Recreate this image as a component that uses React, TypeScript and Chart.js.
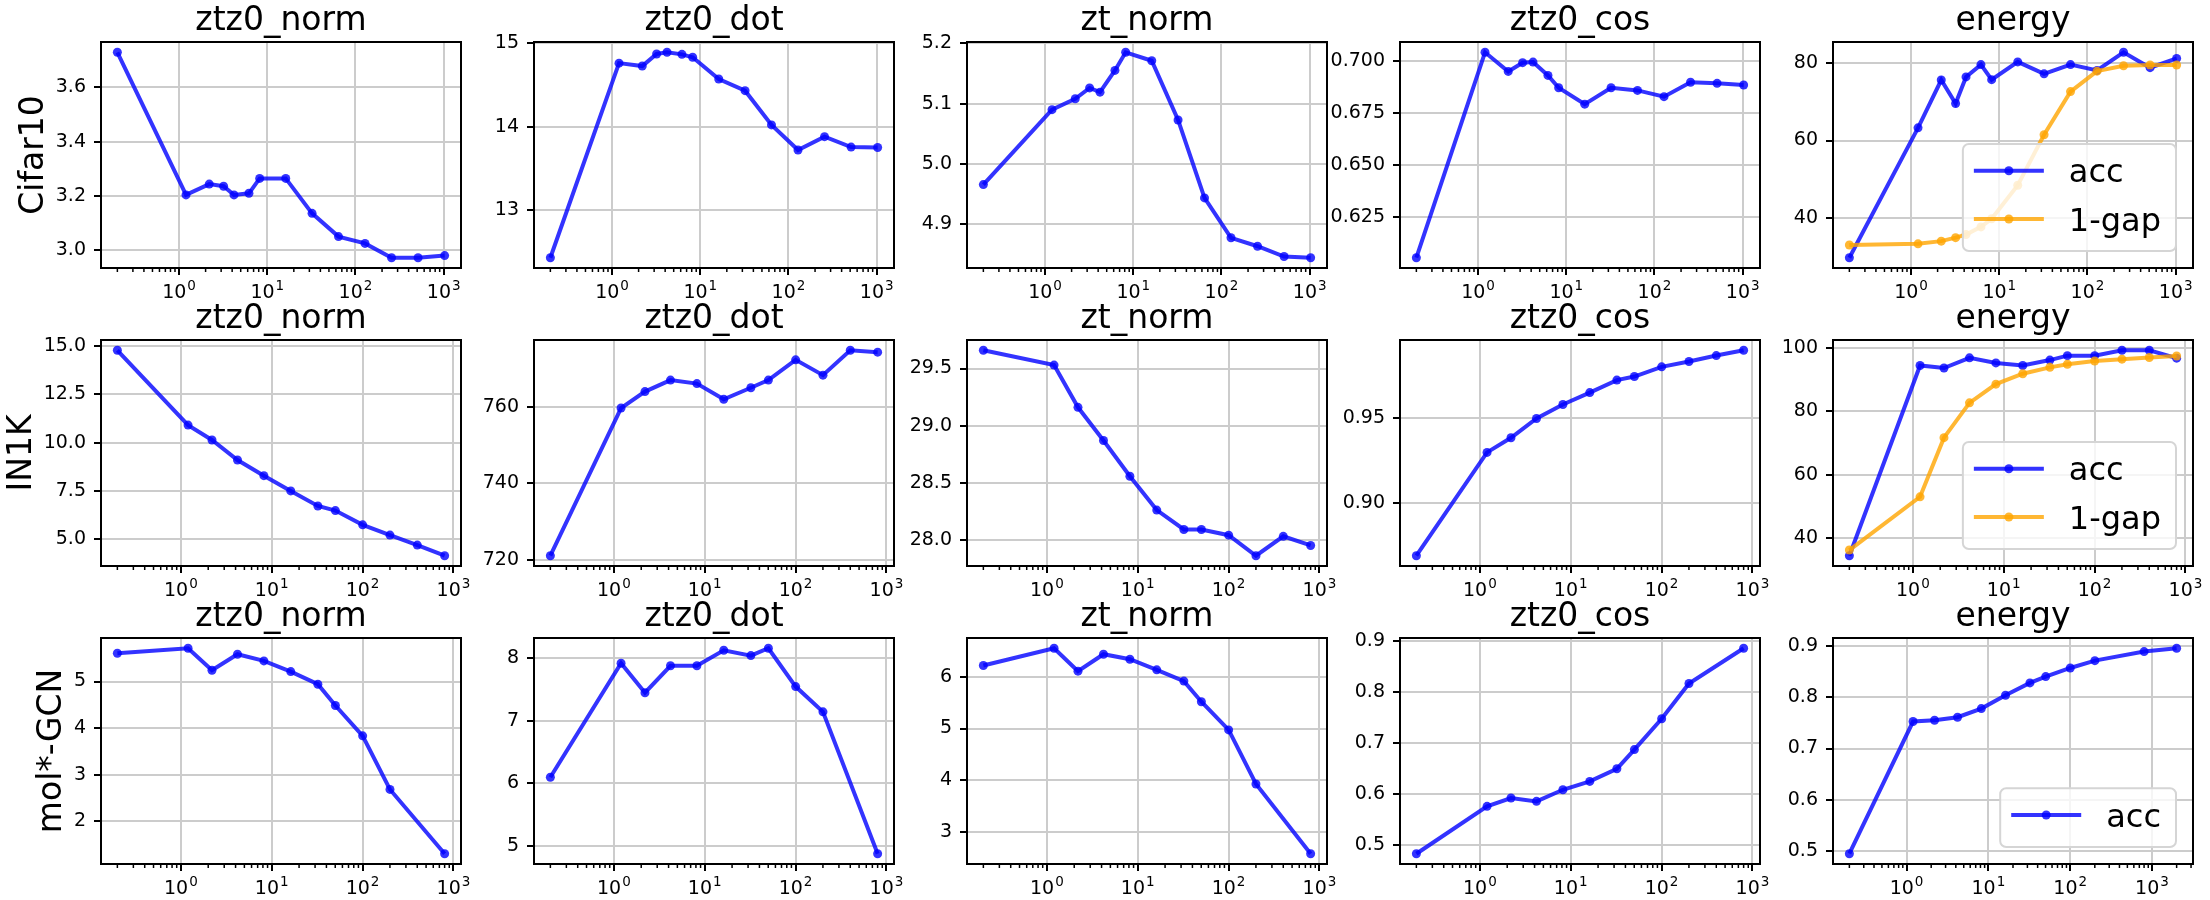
import React, { useEffect, useRef } from "react";
import { Chart, registerables } from "chart.js";

Chart.register(...registerables);
Chart.defaults.font.family = "'DejaVu Sans', 'Noto Sans', sans-serif";

// ---------------- data ----------------
const X_TICK_VALUES = [1, 10, 100, 1000];
const X_TICK_BASE = "10";
const X_TICK_EXPONENTS = ["0", "1", "2", "3"];

const ROW_LABELS = ["Cifar10", "IN1K", "mol*-GCN"];
const COL_TITLES = ["ztz0_norm", "ztz0_dot", "zt_norm", "ztz0_cos", "energy"];

const CIFAR_X = [0.2, 1.2, 2.2, 3.2, 4.2, 6.2, 8.2, 16.2, 32.2, 64.2, 128.2, 256.2, 512.2, 1024.2];
const CIFAR_ZTZ0_NORM = [3.73, 3.203, 3.243, 3.235, 3.203, 3.209, 3.264, 3.264, 3.135, 3.049, 3.024, 2.971, 2.971, 2.979];
const CIFAR_ZTZ0_DOT = [12.43, 14.76, 14.725, 14.87, 14.89, 14.865, 14.83, 14.57, 14.43, 14.02, 13.72, 13.88, 13.755, 13.75];
const CIFAR_ZT_NORM = [4.966, 5.09, 5.108, 5.126, 5.119, 5.155, 5.185, 5.171, 5.073, 4.944, 4.878, 4.864, 4.847, 4.845];
const CIFAR_ZTZ0_COS = [0.6056, 0.7042, 0.695, 0.6992, 0.6995, 0.6931, 0.6872, 0.6793, 0.6872, 0.6859, 0.6829, 0.6898, 0.6893, 0.6885];
const CIFAR_ACC = [29.6, 63.3, 75.7, 69.6, 76.5, 79.7, 75.8, 80.4, 77.3, 79.7, 78.2, 82.9, 78.9, 81.3];
const CIFAR_GAP = [32.9, 33.2, 33.9, 34.8, 35.6, 37.6, 39.7, 48.4, 61.5, 72.7, 78.0, 79.4, 79.6, 79.6];

const IN1K_X = [0.2, 1.2, 2.2, 4.2, 8.2, 16.2, 32.2, 50.2, 100.2, 200.2, 400.2, 800.2];
const IN1K_ZTZ0_NORM = [14.79, 10.91, 10.14, 9.1, 8.29, 7.5, 6.72, 6.48, 5.74, 5.21, 4.69, 4.14];
const IN1K_ZTZ0_DOT = [721.1, 759.7, 764.0, 767.0, 766.1, 762.0, 765.0, 767.0, 772.3, 768.3, 774.8, 774.3];
const IN1K_ZT_NORM = [29.66, 29.53, 29.16, 28.87, 28.556, 28.26, 28.09, 28.09, 28.04, 27.86, 28.03, 27.95];
const IN1K_ZTZ0_COS = [0.8691, 0.9297, 0.9383, 0.9496, 0.9578, 0.9648, 0.9721, 0.9742, 0.9799, 0.983, 0.9865, 0.9896];
const IN1K_ACC = [34.4, 94.5, 93.7, 96.9, 95.3, 94.5, 96.2, 97.6, 97.6, 99.3, 99.3, 96.8];
const IN1K_GAP = [36.2, 53.0, 71.7, 82.7, 88.6, 91.9, 93.9, 94.9, 95.9, 96.5, 97.0, 97.5];

const MOL_X = [0.2, 1.2, 2.2, 4.2, 8.2, 16.2, 32.2, 50.2, 100.2, 200.2, 800.2];
const MOL_ZTZ0_NORM = [5.607, 5.714, 5.243, 5.586, 5.443, 5.214, 4.943, 4.486, 3.836, 2.686, 1.307];
const MOL_ZTZ0_DOT = [6.1, 7.92, 7.45, 7.88, 7.88, 8.128, 8.043, 8.16, 7.548, 7.144, 4.878];
const MOL_ZT_NORM = [6.218, 6.552, 6.109, 6.437, 6.34, 6.135, 5.917, 5.518, 4.974, 3.929, 2.58];
const MOL_ZTZ0_COS = [0.4837, 0.5765, 0.5928, 0.5863, 0.609, 0.6254, 0.6502, 0.6878, 0.7482, 0.8173, 0.8863];
const MOL_ENERGY_X = [0.2, 1.2, 2.2, 4.2, 8.2, 16.2, 32.2, 50.2, 100.2, 200.2, 800.2, 2000.2];
const MOL_ACC = [0.4948, 0.7526, 0.7552, 0.761, 0.7779, 0.8039, 0.8279, 0.8403, 0.8571, 0.8714, 0.889, 0.8955];

const Y_TICKS = [
  [["3.0", "3.2", "3.4", "3.6"], ["13", "14", "15"], ["4.9", "5.0", "5.1", "5.2"], ["0.625", "0.650", "0.675", "0.700"], ["40", "60", "80"]],
  [["5.0", "7.5", "10.0", "12.5", "15.0"], ["720", "740", "760"], ["28.0", "28.5", "29.0", "29.5"], ["0.90", "0.95"], ["40", "60", "80", "100"]],
  [["2", "3", "4", "5"], ["5", "6", "7", "8"], ["3", "4", "5", "6"], ["0.5", "0.6", "0.7", "0.8", "0.9"], ["0.5", "0.6", "0.7", "0.8", "0.9"]],
];

// ---------------- styles / layout ----------------
const BLUE = "rgba(0,0,255,0.8)";
const ORANGE = "rgba(255,165,0,0.8)";
const GRID = "#cccccc";
const FONT = "'DejaVu Sans'";
const COL_LEFT = [101, 534, 967, 1400, 1833];
const ROW_TOP = [42, 340, 638];
const PLOT_W = 360;
const PLOT_H = 226;
const PAD_L = 100;
const PAD_T = 42;
const PAD_R = 14;
const PAD_B = 45;

type Series = { label: string; x: number[]; y: number[]; color: string };
type Panel = { title: string; rowLabel?: string; series: Series[]; yTicks: string[]; legend: boolean };

const s = (label: string, x: number[], y: number[], color: string): Series => ({ label, x, y, color });

const PANELS: Panel[][] = [
  [
    { title: COL_TITLES[0], rowLabel: ROW_LABELS[0], series: [s("ztz0_norm", CIFAR_X, CIFAR_ZTZ0_NORM, BLUE)], yTicks: Y_TICKS[0][0], legend: false },
    { title: COL_TITLES[1], series: [s("ztz0_dot", CIFAR_X, CIFAR_ZTZ0_DOT, BLUE)], yTicks: Y_TICKS[0][1], legend: false },
    { title: COL_TITLES[2], series: [s("zt_norm", CIFAR_X, CIFAR_ZT_NORM, BLUE)], yTicks: Y_TICKS[0][2], legend: false },
    { title: COL_TITLES[3], series: [s("ztz0_cos", CIFAR_X, CIFAR_ZTZ0_COS, BLUE)], yTicks: Y_TICKS[0][3], legend: false },
    { title: COL_TITLES[4], series: [s("acc", CIFAR_X, CIFAR_ACC, BLUE), s("1-gap", CIFAR_X, CIFAR_GAP, ORANGE)], yTicks: Y_TICKS[0][4], legend: true },
  ],
  [
    { title: COL_TITLES[0], rowLabel: ROW_LABELS[1], series: [s("ztz0_norm", IN1K_X, IN1K_ZTZ0_NORM, BLUE)], yTicks: Y_TICKS[1][0], legend: false },
    { title: COL_TITLES[1], series: [s("ztz0_dot", IN1K_X, IN1K_ZTZ0_DOT, BLUE)], yTicks: Y_TICKS[1][1], legend: false },
    { title: COL_TITLES[2], series: [s("zt_norm", IN1K_X, IN1K_ZT_NORM, BLUE)], yTicks: Y_TICKS[1][2], legend: false },
    { title: COL_TITLES[3], series: [s("ztz0_cos", IN1K_X, IN1K_ZTZ0_COS, BLUE)], yTicks: Y_TICKS[1][3], legend: false },
    { title: COL_TITLES[4], series: [s("acc", IN1K_X, IN1K_ACC, BLUE), s("1-gap", IN1K_X, IN1K_GAP, ORANGE)], yTicks: Y_TICKS[1][4], legend: true },
  ],
  [
    { title: COL_TITLES[0], rowLabel: ROW_LABELS[2], series: [s("ztz0_norm", MOL_X, MOL_ZTZ0_NORM, BLUE)], yTicks: Y_TICKS[2][0], legend: false },
    { title: COL_TITLES[1], series: [s("ztz0_dot", MOL_X, MOL_ZTZ0_DOT, BLUE)], yTicks: Y_TICKS[2][1], legend: false },
    { title: COL_TITLES[2], series: [s("zt_norm", MOL_X, MOL_ZT_NORM, BLUE)], yTicks: Y_TICKS[2][2], legend: false },
    { title: COL_TITLES[3], series: [s("ztz0_cos", MOL_X, MOL_ZTZ0_COS, BLUE)], yTicks: Y_TICKS[2][3], legend: false },
    { title: COL_TITLES[4], series: [s("acc", MOL_ENERGY_X, MOL_ACC, BLUE)], yTicks: Y_TICKS[2][4], legend: true },
  ],
];

function decorPlugin(panel: Panel, yTicksIn: string[]) {
  return {
    id: "decor",
    afterDraw(chart: any) {
      const ctx: CanvasRenderingContext2D = chart.ctx;
      const a = chart.chartArea;
      const xs = chart.scales.x;
      ctx.save();
      // minor ticks on the log x axis
      ctx.strokeStyle = "#000";
      ctx.lineWidth = 1.5;
      const lo = Math.floor(Math.log10(xs.min));
      const hi = Math.ceil(Math.log10(xs.max));
      for (let d = lo; d <= hi; d++) {
        for (let m = 2; m <= 9; m++) {
          const v = m * Math.pow(10, d);
          if (v < xs.min || v > xs.max) continue;
          const px = xs.getPixelForValue(v);
          ctx.beginPath();
          ctx.moveTo(px, a.bottom);
          ctx.lineTo(px, a.bottom + 4);
          ctx.stroke();
        }
      }
      // x tick labels: base with raised exponent
      ctx.fillStyle = "#000";
      ctx.textBaseline = "alphabetic";
      ctx.textAlign = "left";
      X_TICK_VALUES.forEach((v, k) => {
        if (v < xs.min || v > xs.max) return;
        const px = xs.getPixelForValue(v);
        ctx.font = `19px ${FONT}`;
        const wb = ctx.measureText(X_TICK_BASE).width;
        ctx.font = `13.5px ${FONT}`;
        const we = ctx.measureText(X_TICK_EXPONENTS[k]).width;
        const x0 = px - (wb + we + 1) / 2;
        ctx.font = `19px ${FONT}`;
        ctx.fillText(X_TICK_BASE, x0, a.bottom + 30);
        ctx.font = `13.5px ${FONT}`;
        ctx.fillText(X_TICK_EXPONENTS[k], x0 + wb + 1, a.bottom + 22);
      });
      // frame
      ctx.strokeStyle = "#000";
      ctx.lineWidth = 2;
      ctx.strokeRect(a.left, a.top, a.right - a.left, a.bottom - a.top);
      // title
      ctx.font = `33px ${FONT}`;
      ctx.textAlign = "center";
      ctx.fillText(panel.title, (a.left + a.right) / 2, a.top - 12);
      // row label
      if (panel.rowLabel) {
        ctx.font = `19px ${FONT}`;
        let maxW = 0;
        yTicksIn.forEach((t) => (maxW = Math.max(maxW, ctx.measureText(t).width)));
        const x = a.left - 15 - maxW - 13;
        ctx.font = `33px ${FONT}`;
        ctx.translate(x, (a.top + a.bottom) / 2);
        ctx.rotate(-Math.PI / 2);
        ctx.textAlign = "center";
        ctx.fillText(panel.rowLabel, 0, 0);
        ctx.setTransform(1, 0, 0, 1, 0, 0);
      }
      // legend
      if (panel.legend) {
        ctx.font = `32px ${FONT}`;
        let tw = 0;
        panel.series.forEach((sr) => (tw = Math.max(tw, ctx.measureText(sr.label).width)));
        const n = panel.series.length;
        const w = 11 + 70 + 25 + tw + 15;
        const h = 26.7 + (n - 1) * 48.3 + 32;
        const bx = a.right - 17 - w;
        const by = a.bottom - 17 - h;
        ctx.beginPath();
        ctx.roundRect(bx, by, w, h, 6);
        ctx.fillStyle = "rgba(255,255,255,0.8)";
        ctx.fill();
        ctx.strokeStyle = "#d5d5d5";
        ctx.lineWidth = 2;
        ctx.stroke();
        panel.series.forEach((sr, i) => {
          const cy = by + 26.7 + i * 48.3;
          ctx.strokeStyle = sr.color;
          ctx.lineWidth = 4;
          ctx.beginPath();
          ctx.moveTo(bx + 11, cy);
          ctx.lineTo(bx + 81, cy);
          ctx.stroke();
          ctx.fillStyle = sr.color;
          ctx.beginPath();
          ctx.arc(bx + 46, cy, 4.5, 0, Math.PI * 2);
          ctx.fill();
          ctx.fillStyle = "#000";
          ctx.textAlign = "left";
          ctx.textBaseline = "alphabetic";
          ctx.fillText(sr.label, bx + 106, cy + 11.5);
        });
      }
      ctx.restore();
    },
  };
}

function SubPlot({ panel, left, top }: { panel: Panel; left: number; top: number }) {
  const ref = useRef<HTMLCanvasElement | null>(null);
  const W = PAD_L + PLOT_W + PAD_R;
  const H = PAD_T + PLOT_H + PAD_B;
  useEffect(() => {
    if (!ref.current) return;
    const allY = panel.series.flatMap((sr) => sr.y);
    const allX = panel.series.flatMap((sr) => sr.x);
    const yLo = Math.min(...allY);
    const yHi = Math.max(...allY);
    const ym = (yHi - yLo) * 0.05;
    const yMin = yLo - ym;
    const yMax = yHi + ym;
    const lxLo = Math.log10(Math.min(...allX));
    const lxHi = Math.log10(Math.max(...allX));
    const xm = (lxHi - lxLo) * 0.05;
    const xMin = Math.pow(10, lxLo - xm);
    const xMax = Math.pow(10, lxHi + xm);
    const yTickVals = panel.yTicks.map((t) => parseFloat(t));
    const yTicksIn = panel.yTicks.filter((t) => parseFloat(t) >= yMin && parseFloat(t) <= yMax);
    const n = panel.series.length;

    const chart = new Chart(ref.current, {
      type: "line",
      data: {
        datasets: panel.series.map((sr, i) => ({
          label: sr.label,
          data: sr.x.map((v, j) => ({ x: v, y: sr.y[j] })),
          borderColor: sr.color,
          backgroundColor: sr.color,
          pointBackgroundColor: sr.color,
          pointBorderWidth: 0,
          pointRadius: 4.5,
          pointHoverRadius: 4.5,
          borderWidth: 4,
          tension: 0,
          fill: false,
          order: n - 1 - i,
        })),
      },
      options: {
        animation: false,
        responsive: false,
        devicePixelRatio: 1,
        events: [],
        layout: { padding: { left: 0, top: PAD_T, right: PAD_R, bottom: 0 }, autoPadding: false },
        plugins: { legend: { display: false }, tooltip: { enabled: false }, title: { display: false } },
        scales: {
          x: {
            type: "logarithmic",
            position: "bottom",
            min: xMin,
            max: xMax,
            afterBuildTicks: (sc: any) => {
              sc.ticks = X_TICK_VALUES.filter((v) => v >= xMin && v <= xMax).map((v) => ({ value: v }));
            },
            afterFit: (sc: any) => {
              sc.height = PAD_B;
            },
            ticks: { display: false, autoSkip: false, maxRotation: 0 },
            grid: { color: GRID, lineWidth: 2, tickColor: "#000", tickLength: 7, tickWidth: 2, drawTicks: true },
            border: { display: false },
          },
          y: {
            type: "linear",
            position: "left",
            min: yMin,
            max: yMax,
            afterBuildTicks: (sc: any) => {
              sc.ticks = yTickVals.filter((v) => v >= yMin && v <= yMax).map((v) => ({ value: v }));
            },
            afterFit: (sc: any) => {
              sc.width = PAD_L;
            },
            ticks: {
              autoSkip: false,
              padding: 8,
              color: "#000",
              font: { size: 19 },
              callback: (v: any) => {
                const k = yTickVals.indexOf(Number(v));
                return k >= 0 ? panel.yTicks[k] : "";
              },
            },
            grid: { color: GRID, lineWidth: 2, tickColor: "#000", tickLength: 7, tickWidth: 2, drawTicks: true },
            border: { display: false },
          },
        },
      } as any,
      plugins: [decorPlugin(panel, yTicksIn)],
    });
    return () => chart.destroy();
  }, [panel]);
  return (
    <canvas
      ref={ref}
      width={W}
      height={H}
      style={{ position: "absolute", left: left - PAD_L, top: top - PAD_T, width: W, height: H }}
    />
  );
}

export default function App() {
  useEffect(() => {
    document.body.style.margin = "0";
    document.body.style.overflow = "hidden";
  }, []);
  return (
    <div style={{ position: "absolute", left: 0, top: 0, width: 2210, height: 900, background: "#fff", overflow: "hidden" }}>
      {PANELS.map((row, r) =>
        row.map((p, c) => <SubPlot key={`${r}-${c}`} panel={p} left={COL_LEFT[c]} top={ROW_TOP[r]} />)
      )}
    </div>
  );
}
